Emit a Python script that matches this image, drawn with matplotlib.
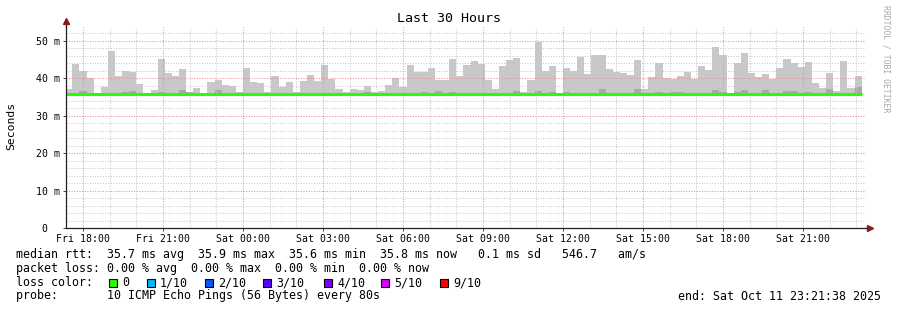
import matplotlib
matplotlib.use('Agg')
import matplotlib.pyplot as plt
from matplotlib.patches import Rectangle

plt.rcParams['font.family'] = ['DejaVu Sans Mono']

# hours counted from Fri 00:00
start_h = 17 + 21/60 + 38/3600   # Fri 17:21:38
span_h = 30
first_edge = 17.6                 # Fri 17:36, 16 min buckets
step_h = 16/60

# max ping per 16 min bucket (ms)
smoke_max = [37.1, 43.9, 42.0, 40.1, 36.0, 37.8, 47.3, 40.6, 42.0, 41.8,
             38.5, 36.0, 37.0, 45.2, 41.5, 40.7, 42.5, 36.4, 37.5, 36.0,
             39.0, 39.6, 38.2, 37.9, 36.3, 42.8, 39.0, 38.75, 36.3, 40.6,
             37.8, 39.0, 36.3, 39.3, 40.9, 39.3, 43.6, 39.8, 37.1, 36.3,
             37.1, 36.8, 37.9, 36.3, 36.6, 38.2, 40.1, 37.7, 43.6, 41.7,
             41.7, 42.8, 39.6, 39.6, 45.2, 40.6, 43.6, 44.6, 43.7, 39.6,
             37.1, 43.3, 44.9, 45.4, 36.3, 39.6, 49.7, 42.0, 43.3, 36.0,
             42.8, 42.0, 45.7, 41.2, 46.3, 46.3, 42.5, 41.7, 41.4, 40.9,
             44.9, 37.1, 40.4, 44.1, 40.1, 39.8, 40.6, 41.7, 39.8, 43.3,
             42.2, 48.4, 46.3, 36.0, 44.1, 46.8, 41.4, 40.4, 41.2, 39.8,
             42.8, 45.2, 44.1, 43.0, 44.4, 38.75, 37.4, 41.4, 36.6, 44.6,
             37.4, 40.6]

# upper edge of the darker smoke band
smoke_dark = [35.9, 35.9, 36.6, 35.9, 35.9, 35.9, 36.2, 35.9, 36.3, 36.7,
              36.2, 35.9, 35.9, 36.3, 35.9, 35.9, 36.9, 36.4, 35.9, 35.9,
              35.9, 36.9, 35.9, 35.9, 35.9, 35.9, 35.9, 35.9, 35.9, 35.9,
              35.9, 35.9, 35.9, 35.9, 35.9, 35.9, 35.9, 35.9, 35.9, 35.9,
              35.9, 35.9, 36.3, 35.9, 35.9, 35.9, 35.9, 35.9, 35.9, 35.9,
              36.3, 35.9, 36.6, 35.9, 36.3, 35.9, 35.9, 35.9, 35.9, 35.9,
              35.9, 35.9, 35.9, 36.6, 35.9, 35.9, 36.6, 35.9, 36.3, 35.9,
              36.3, 35.9, 36.1, 35.9, 36.1, 37.2, 35.9, 35.9, 35.9, 35.9,
              37.2, 35.9, 35.9, 36.3, 35.9, 36.3, 36.3, 35.9, 36.1, 35.9,
              35.9, 36.9, 36.3, 35.9, 36.3, 36.9, 35.9, 35.9, 36.9, 35.9,
              35.9, 36.6, 36.6, 35.9, 36.3, 35.9, 35.9, 37.2, 35.9, 35.9,
              35.9, 37.7]

# median rtt per bucket (ms)
median = [35.7, 35.7, 35.7, 35.7, 35.7, 35.7, 35.7, 35.7, 35.7, 35.7,
          35.7, 35.7, 35.7, 35.7, 35.7, 35.7, 35.7, 35.7, 35.7, 35.7,
          35.7, 35.7, 35.7, 35.7, 35.7, 35.7, 35.7, 35.7, 35.7, 35.7,
          35.7, 35.7, 35.7, 35.8, 35.7, 35.7, 35.7, 35.8, 35.7, 35.7,
          35.7, 35.7, 35.7, 35.7, 35.7, 35.7, 35.7, 35.7, 35.7, 35.7,
          35.7, 35.7, 35.7, 35.7, 35.7, 35.7, 35.7, 35.7, 35.7, 35.7,
          35.7, 35.7, 35.7, 35.7, 35.7, 35.7, 35.7, 35.7, 35.7, 35.7,
          35.7, 35.7, 35.7, 35.7, 35.7, 35.7, 35.7, 35.7, 35.7, 35.7,
          35.7, 35.7, 35.7, 35.7, 35.7, 35.7, 35.7, 35.7, 35.7, 35.7,
          35.7, 35.7, 35.7, 35.7, 35.7, 35.7, 35.7, 35.7, 35.7, 35.7,
          35.7, 35.7, 35.7, 35.7, 35.7, 35.7, 35.7, 35.7, 35.7, 35.7,
          35.9, 35.7]
smoke_min = 35.5

xtick_hours = [18, 21, 24, 27, 30, 33, 36, 39, 42, 45]
xtick_labels = ['Fri 18:00', 'Fri 21:00', 'Sat 00:00', 'Sat 03:00', 'Sat 06:00',
                'Sat 09:00', 'Sat 12:00', 'Sat 15:00', 'Sat 18:00', 'Sat 21:00']
ytick_vals = [0, 10, 20, 30, 40, 50]
ytick_labels = ['0  ', '10 m', '20 m', '30 m', '40 m', '50 m']

loss_names = ['0', '1/10', '2/10', '3/10', '4/10', '5/10', '9/10']
loss_colors = ['#26ff00', '#00b8ff', '#0059ff', '#5e00ff', '#7e00ff', '#dd00ff', '#ff0000']

line_rtt = 'median rtt:  35.7 ms avg  35.9 ms max  35.6 ms min  35.8 ms now   0.1 ms sd   546.7   am/s'
line_loss = 'packet loss: 0.00 % avg  0.00 % max  0.00 % min  0.00 % now'
line_probe = 'probe:       10 ICMP Echo Pings (56 Bytes) every 80s'
line_end = 'end: Sat Oct 11 23:21:38 2025'

W, H = 897, 310
fig = plt.figure(figsize=(W/100, H/100), dpi=100)
fig.patch.set_facecolor('white')
ax = fig.add_axes([66/W, 1-228/H, 800/W, 201/H])

edges = [start_h] + [first_edge + k*step_h for k in range(len(smoke_max))]

ax.stairs(smoke_max, edges, baseline=smoke_min, fill=True, color='#c8c8c8', zorder=1)
ax.stairs(smoke_dark, edges, baseline=smoke_min, fill=True, color='#a8a8a8', zorder=1.2)
ax.stairs(median, edges, baseline=None, color=loss_colors[0], linewidth=2.2, zorder=3)

ax.set_xlim(start_h, start_h + span_h)
ax.set_ylim(0, 53.7)

ax.set_xticks(xtick_hours)
ax.set_xticklabels(xtick_labels, fontsize=7.1)
ax.set_xticks([h for h in range(18, 48)], minor=True)
ax.set_yticks(ytick_vals)
ax.set_yticklabels(ytick_labels, fontsize=7.1)
ax.set_yticks(list(range(0, 54, 2)), minor=True)

ax.set_axisbelow(False)
ax.grid(which='minor', color='#c8c8c8', linestyle=(0, (1, 1.5)), linewidth=0.75)
ax.grid(which='major', color='#f09090', linestyle=(0, (1, 1.5)), linewidth=0.75)

ax.tick_params(which='major', length=2, width=0.7, color='#404040', pad=2.5)
ax.tick_params(which='minor', length=0)

for s in ['top', 'right']:
    ax.spines[s].set_visible(False)
for s in ['left', 'bottom']:
    ax.spines[s].set_color('#202020')
    ax.spines[s].set_linewidth(0.9)
    ax.spines[s].set_zorder(4)

# axis arrows
ax.plot([0, 0], [1, 1.02], transform=ax.transAxes, color='#202020', lw=0.9, clip_on=False)
ax.plot([1, 1.004], [0, 0], transform=ax.transAxes, color='#202020', lw=0.9, clip_on=False)
ax.plot([0], [1.03], marker='^', markersize=4, color='#8b1a1a', transform=ax.transAxes, clip_on=False)
ax.plot([1.0055], [0], marker='>', markersize=4, color='#8b1a1a', transform=ax.transAxes, clip_on=False)

def px(x, y):
    return x / W, 1 - y / H

fig.text(*px(448.5, 19), 'Last 30 Hours', ha='center', va='center', fontsize=9.6)
fig.text(*px(11, 126), 'Seconds', ha='center', va='center', rotation=90, fontsize=8.2)
fig.text(*px(886, 59), 'RRDTOOL / TOBI OETIKER', ha='center', va='center',
         rotation=270, fontsize=5.9, color='#a8a8a8')

fs = 8.4
rows = [254.5, 268.5, 282.5, 296]
fig.text(*px(15.5, rows[0]), line_rtt, va='center', fontsize=fs)
fig.text(*px(15.5, rows[1]), line_loss, va='center', fontsize=fs)

fig.text(*px(15.5, rows[2]), 'loss color:', va='center', fontsize=fs)
box_x = [109, 147, 205, 263, 324, 381, 440]
for bx, name, col in zip(box_x, loss_names, loss_colors):
    fig.add_artist(Rectangle(px(bx, rows[2] + 4), 8/W, 8/H, transform=fig.transFigure,
                             facecolor=col, edgecolor='black', linewidth=0.8))
    fig.text(*px(bx + 13, rows[2]), name, va='center', fontsize=fs)

fig.text(*px(15.5, rows[3]), line_probe, va='center', fontsize=fs)
fig.text(*px(881, rows[3]), line_end, va='center', ha='right', fontsize=fs)

fig.savefig('out.png', dpi=100, facecolor='white')
